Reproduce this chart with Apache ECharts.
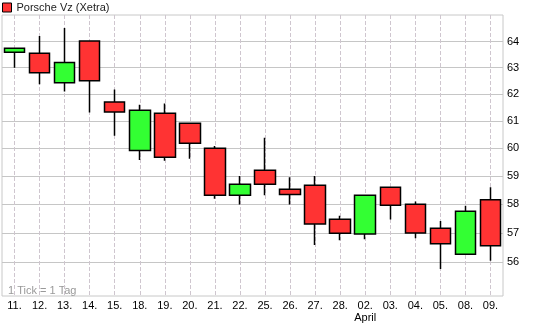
<!DOCTYPE html>
<html>
<head>
<meta charset="utf-8">
<script src="https://cdn.jsdelivr.net/npm/echarts@6/dist/echarts.min.js"></script>
<style>
html,body{margin:0;padding:0;background:#fff;}
#c{width:545px;height:330px;}
</style>
</head>
<body>
<div id="c"></div>
<script>
const categories = ['11.','12.','13.','14.','15.','18.','19.','20.','21.','22.','25.','26.','27.','28.','02.','03.','04.','05.','08.','09.'];
const opens  = [63.59,63.55,62.43,64.02,61.70,59.92,61.29,60.92,60.00,58.32,59.21,58.53,58.67,57.48,56.97,58.60,58.00,57.17,56.27,58.16];
const closes = [63.74,62.81,63.20,62.50,61.33,61.40,59.68,60.18,58.32,58.71,58.71,58.35,57.31,56.99,58.32,57.97,57.00,56.63,57.76,56.56];
const lows   = [63.00,62.37,62.10,61.31,60.46,59.58,59.55,59.62,58.20,57.99,58.32,57.99,56.59,56.75,56.79,57.47,56.82,55.77,56.27,56.05];
const highs  = [63.76,64.22,64.53,64.02,62.17,61.60,61.65,60.92,60.08,59.00,60.38,58.96,59.00,57.60,58.32,58.60,58.10,57.42,57.95,58.60];
const yTicks = [56,57,58,59,60,61,62,63,64];
const seriesName = 'Porsche Vz (Xetra)';
const monthLabel = 'April';
const monthAt = '02.';
const note = '1 Tick = 1 Tag';

const L = Math.log;
const candleData = categories.map((c,i)=>[L(opens[i]),L(closes[i]),L(lows[i]),L(highs[i])]);
const tickLog = yTicks.map(L);

const chart = echarts.init(document.getElementById('c'), null, {renderer:'canvas'});
chart.setOption({
  animation:false,
  backgroundColor:'#ffffff',
  textStyle:{fontFamily:'Liberation Sans, Arial, sans-serif'},
  legend:{
    left:2, top:2, itemWidth:9, itemHeight:9, itemGap:4, padding:0,
    icon:'rect',
    textStyle:{fontSize:11, color:'#222', fontFamily:'Liberation Sans, Arial, sans-serif'},
    data:[{name:seriesName, itemStyle:{color:'#ff3333', borderColor:'#000', borderWidth:1}}]
  },
  grid:{left:2, right:42, top:15, bottom:34, show:true, borderColor:'#c8c8c8', borderWidth:1},
  xAxis:{
    type:'category', data:categories, boundaryGap:true,
    axisLine:{show:false}, axisTick:{show:false},
    splitLine:{show:true, alignWithLabel:true, lineStyle:{color:'#cfc6cf', type:[4,2], width:1}},
    axisLabel:{
      margin:4, fontSize:11, color:'#000', interval:0,
      fontFamily:'Liberation Sans, Arial, sans-serif',
      formatter:function(v){ return v===monthAt ? v+'\n'+monthLabel : v; },
      lineHeight:12
    }
  },
  yAxis:{
    type:'value', position:'right', scale:true,
    min:L(54.87), max:L(65.04),
    axisLine:{show:false},
    axisTick:{show:false, customValues:tickLog},
    splitLine:{show:true, lineStyle:{color:'#c6c6c6', width:1}},
    axisLabel:{
      customValues:tickLog, margin:4, fontSize:11, color:'#000', align:'left',
      fontFamily:'Liberation Sans, Arial, sans-serif',
      formatter:function(v){ return String(Math.round(Math.exp(v))); }
    }
  },
  graphic:[{
    type:'text', left:8, top:285,
    style:{text:note, fill:'#999', font:'11px "Liberation Sans", Arial, sans-serif'}
  }],
  series:[{
    name:seriesName, type:'candlestick', data:candleData, barWidth:21,
    itemStyle:{
      color:'#33ff33', color0:'#ff3333',
      borderColor:'#000', borderColor0:'#000', borderColorDoji:'#000', borderWidth:1.5
    }
  }]
});
</script>
</body>
</html>
